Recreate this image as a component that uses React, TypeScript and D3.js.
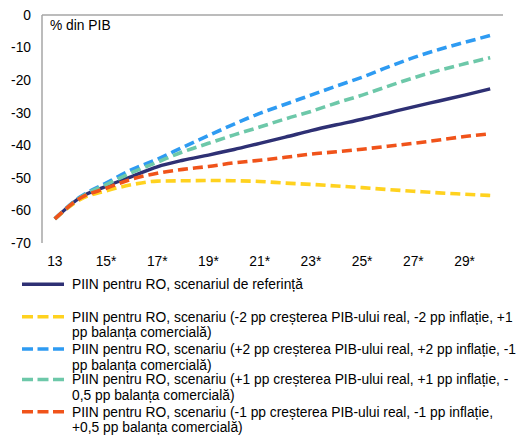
import React from "react";
import * as d3 from "d3";

// Years on the horizontal axis (forecast years carry an asterisk)
const years = ["13", "14", "15*", "16*", "17*", "18*", "19*", "20*", "21*", "22*", "23*", "24*", "25*", "26*", "27*", "28*", "29*", "30*"];
const tickYears = ["13", "15*", "17*", "19*", "21*", "23*", "25*", "27*", "29*"];
const yTicks = [0, -10, -20, -30, -40, -50, -60, -70];

// Net international investment position, % of GDP
const baseline = [-62.6, -56.0, -52.6, -49.6, -46.6, -44.6, -43.0, -41.3, -39.4, -37.5, -35.5, -33.7, -32.0, -30.1, -28.2, -26.4, -24.6, -22.7];
const lowGrowth2 = [-62.6, -56.6, -54.0, -52.1, -51.0, -50.9, -50.8, -50.9, -51.1, -51.6, -52.0, -52.5, -53.0, -53.6, -54.1, -54.6, -55.0, -55.4];
const highGrowth2 = [-62.6, -55.8, -51.6, -47.5, -44.3, -40.6, -37.0, -33.5, -30.2, -27.4, -24.6, -21.8, -19.1, -16.0, -13.1, -10.6, -8.4, -6.3];
const highGrowth1 = [-62.6, -56.0, -52.1, -48.4, -45.2, -42.0, -39.4, -36.8, -34.4, -31.9, -29.6, -27.0, -24.6, -21.9, -19.3, -17.0, -15.0, -13.1];
const lowGrowth1 = [-62.6, -56.2, -53.2, -50.4, -48.6, -47.4, -46.5, -45.4, -44.6, -43.7, -42.7, -42.0, -41.2, -40.3, -39.4, -38.4, -37.3, -36.5];

const seriesNames = [
  ["PIIN pentru RO, scenariul de referință"],
  ["PIIN pentru RO, scenariu (-2 pp creșterea PIB-ului real, -2 pp inflație, +1", "pp balanța comercială)"],
  ["PIIN pentru RO, scenariu (+2 pp creșterea PIB-ului real, +2 pp inflație, -1", "pp balanța comercială)"],
  ["PIIN pentru RO, scenariu (+1 pp creșterea PIB-ului real, +1 pp inflație, -", "0,5 pp balanța comercială)"],
  ["PIIN pentru RO, scenariu (-1 pp creșterea PIB-ului real, -1 pp inflație,", "+0,5 pp balanța comercială)"],
];
const seriesValues = [baseline, lowGrowth2, highGrowth2, highGrowth1, lowGrowth1];
const seriesColors = ["#2E3074", "#FFD21F", "#2E9BF2", "#6DC8A9", "#F0531A"];
const seriesDashed = [false, true, true, true, true];

const W = 518;
const H = 439;
const FONT = "'Liberation Sans', Arial, sans-serif";
const FS = 13.8;

export default function App() {
  const left = 42;
  const right = 503;
  const top = 15;
  const bottom = 243;

  const x = d3.scalePoint<string>().domain(years).range([left, right]).padding(0.5);
  const y = d3.scaleLinear().domain([-70, 0]).range([bottom, top]);

  const line = d3
    .line<number>()
    .x((_, i) => x(years[i]) as number)
    .y((v) => y(v))
    .curve(d3.curveMonotoneX);

  const legendTop = 284.3;
  const legendRows = [0, 32.4, 64.7, 95.2, 127.4];
  const lineGap = 15.8;

  return (
    <div style={{ position: "absolute", left: 0, top: 0 }}>
      <svg width={W} height={H} style={{ display: "block", background: "#fff" }} fontFamily={FONT}>
        {/* axes */}
        <line x1={left} x2={left} y1={top} y2={bottom} stroke="#A6A6A6" strokeWidth={1.5} />
        <line x1={left} x2={right} y1={y(0)} y2={y(0)} stroke="#A6A6A6" strokeWidth={1.5} />

        {yTicks.map((t) => (
          <text key={t} x={31} y={y(t)} dy="0.35em" textAnchor="end" fontSize={FS} fill="#000">
            {t}
          </text>
        ))}
        {tickYears.map((t) => (
          <text key={t} x={x(t) as number} y={266} textAnchor="middle" fontSize={FS} fill="#000">
            {t}
          </text>
        ))}
        <text x={50} y={30} fontSize={FS} fill="#000">
          % din PIB
        </text>

        {/* series, in legend order so the last scenario sits on top */}
        {seriesValues.map((vals, k) => (
          <path
            key={k}
            d={line(vals) || ""}
            fill="none"
            stroke={seriesColors[k]}
            strokeWidth={seriesDashed[k] ? 3.6 : 3.4}
            strokeDasharray={seriesDashed[k] ? "10 5" : undefined}
            strokeLinejoin="round"
          />
        ))}

        {/* legend */}
        {seriesNames.map((lines, k) => {
          const cy = legendTop + legendRows[k];
          return (
            <g key={k}>
              <line
                x1={22}
                x2={64}
                y1={cy}
                y2={cy}
                stroke={seriesColors[k]}
                strokeWidth={3.4}
                strokeDasharray={seriesDashed[k] ? "11 4.5" : undefined}
              />
              <text x={72} y={cy} fontSize={FS} fill="#000">
                {lines.map((s, j) => (
                  <tspan key={j} x={72} y={cy + j * lineGap} dy="0.35em">
                    {s}
                  </tspan>
                ))}
              </text>
            </g>
          );
        })}
      </svg>
    </div>
  );
}
